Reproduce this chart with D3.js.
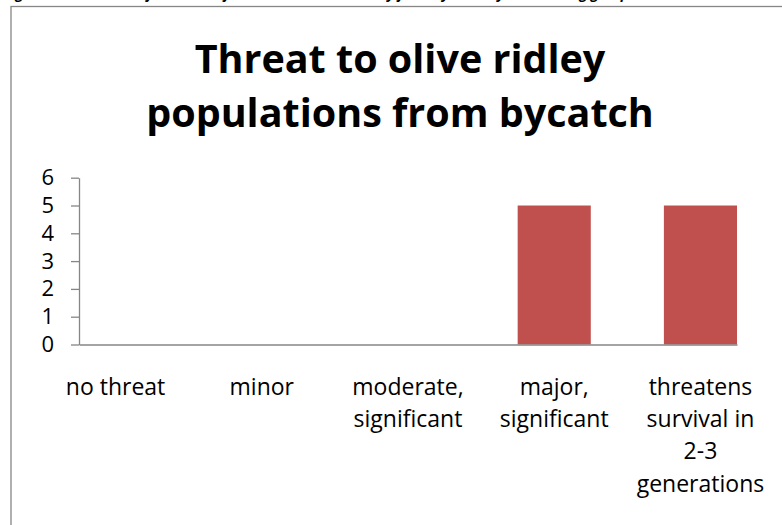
<!DOCTYPE html>
<html>
<head>
<meta charset="utf-8">
<script src="https://cdn.jsdelivr.net/npm/d3@7/dist/d3.min.js"></script>
<style>
  html, body { margin: 0; padding: 0; background: #fff; }
  svg { display: block; }
  text { font-family: "Open Sans", Lato, sans-serif; fill: #000; }
</style>
</head>
<body>
<svg id="chart" width="782" height="525"></svg>
<script>
// Threat levels assessed for olive ridley bycatch
const categories = ["no threat", "minor", "moderate, significant", "major, significant", "threatens survival in 2-3 generations"];
const categoryLines = [["no threat"], ["minor"], ["moderate,", "significant"], ["major,", "significant"], ["threatens", "survival in", "2-3", "generations"]];
const values = [0, 0, 0, 5, 5];
const yTicks = [0, 1, 2, 3, 4, 5, 6];
const titleLines = ["Threat to olive ridley", "populations from bycatch"];
const caption = "Figure 4. Evaluation of the level of threat to the olive ridley from bycatch by the working group";

const svg = d3.select("#chart");
const W = 782, H = 525;
const plot = { left: 79, right: 737, top: 177.7, bottom: 344.5 };
const labelFont = "\"Open Sans\", Lato, sans-serif";

svg.append("rect").attr("width", W).attr("height", H).attr("fill", "#fff");

// figure caption running off the top of the page
svg.append("text")
  .attr("x", 4).attr("y", -1.5)
  .style("font-family", labelFont)
  .style("font-size", "14px").style("font-weight", "bold").style("font-style", "italic")
  .text(caption);

// chart frame
svg.append("rect")
  .attr("x", 11).attr("y", 6.5).attr("width", 820).attr("height", 600)
  .attr("fill", "#fff").attr("stroke", "#868686").attr("stroke-width", 1.3);

// title
const title = svg.append("text")
  .attr("text-anchor", "middle")
  .style("font-family", labelFont)
  .style("font-size", "39.5px").style("font-weight", "bold");
titleLines.forEach((t, i) => {
  title.append("tspan").attr("x", 400).attr("y", 72.7 + i * 54).text(t);
});

const x = d3.scaleBand()
  .domain(categories)
  .range([plot.left, plot.right])
  .paddingInner(0.5)
  .paddingOuter(0);

const y = d3.scaleLinear()
  .domain([0, 6])
  .range([plot.bottom, plot.top]);

// bars
svg.append("g").selectAll("rect")
  .data(categories.map((c, i) => ({ c, v: values[i] })))
  .join("rect")
  .attr("x", d => x(d.c))
  .attr("width", x.bandwidth())
  .attr("y", d => y(d.v))
  .attr("height", d => y(0) - y(d.v))
  .attr("fill", "#C0504D");

// y axis
const yAxis = svg.append("g")
  .attr("transform", `translate(${plot.left},0)`)
  .call(d3.axisLeft(y).tickValues(yTicks).tickFormat(d3.format("d")).tickSize(8).tickSizeOuter(0).tickPadding(17));
yAxis.select(".domain").attr("stroke", "#868686").attr("stroke-width", 1.3);
yAxis.selectAll(".tick line").attr("stroke", "#868686").attr("stroke-width", 1.3);
yAxis.selectAll(".tick text")
  .attr("fill", "#000")
  .style("font-family", labelFont).style("font-size", "22px");

// x axis with wrapped category labels
const xAxis = svg.append("g")
  .attr("transform", `translate(0,${plot.bottom})`)
  .call(d3.axisBottom(x).tickSize(0).tickSizeOuter(0).tickFormat(""));
xAxis.select(".domain").attr("stroke", "#868686").attr("stroke-width", 1.3);
xAxis.selectAll(".tick text").remove();
xAxis.selectAll(".tick").each(function(d, i) {
  const t = d3.select(this).append("text")
    .attr("text-anchor", "middle")
    .attr("fill", "#000")
    .style("font-family", labelFont).style("font-size", "23px");
  categoryLines[i].forEach((line, k) => {
    t.append("tspan").attr("x", 0).attr("y", 50.5 + k * 32.2).text(line);
  });
});
</script>
</body>
</html>
